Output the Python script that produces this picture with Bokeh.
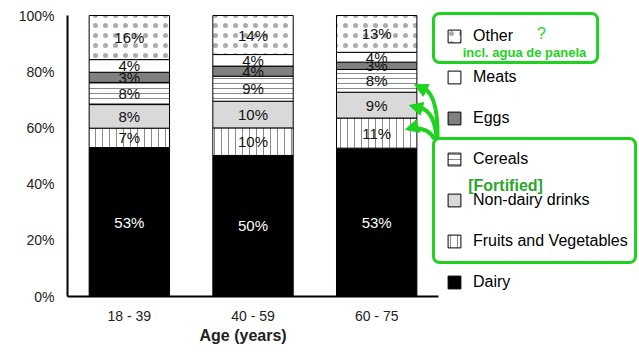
from bokeh.plotting import figure
from bokeh.models import (Legend, LegendItem, Label, BoxAnnotation, Arrow, NormalHead, Title,
                          FixedTicker, PrintfTickFormatter, CustomJSTickFormatter, Range1d,
                          ColumnDataSource)
from bokeh.core.properties import value
from bokeh.embed import file_html
from bokeh.resources import INLINE
import numpy as np

# ---- data ----
ages = ["18 - 39", "40 - 59", "60 - 75"]
groups = ["Dairy", "Fruits and Vegetables", "Non-dairy drinks", "Cereals", "Eggs", "Meats", "Other"]
dairy = [53.0, 50.2, 52.8]
fruits_veg = [6.9, 9.8, 10.7]
non_dairy = [8.4, 9.5, 9.2]
cereals = [7.9, 8.9, 8.1]
eggs = [3.6, 3.6, 2.6]
meats = [4.5, 4.1, 3.5]
other = [15.7, 13.9, 13.1]
dairy_lbl = ["53%", "50%", "53%"]
fruits_veg_lbl = ["7%", "10%", "11%"]
non_dairy_lbl = ["8%", "10%", "9%"]
cereals_lbl = ["8%", "9%", "8%"]
eggs_lbl = ["3%", "4%", "3%"]
meats_lbl = ["4%", "4%", "4%"]
other_lbl = ["16%", "14%", "13%"]
y_ticks = [0, 20, 40, 60, 80, 100]

series = [dairy, fruits_veg, non_dairy, cereals, eggs, meats, other]
labels = [dairy_lbl, fruits_veg_lbl, non_dairy_lbl, cereals_lbl, eggs_lbl, meats_lbl, other_lbl]

FONT = "Liberation Sans"
GREEN = "#1fd21f"
GREEN_DARK = "#2ba62b"

styles = {
    "Dairy": dict(fill_color="black"),
    "Fruits and Vegetables": dict(fill_color="white", hatch_pattern="vertical_line",
                                  hatch_color="#8a8a8a", hatch_scale=7, hatch_weight=1),
    "Non-dairy drinks": dict(fill_color="#d9d9d9"),
    "Cereals": dict(fill_color="white", hatch_pattern="horizontal_line",
                    hatch_color="#8a8a8a", hatch_scale=5, hatch_weight=1),
    "Eggs": dict(fill_color="#808080"),
    "Meats": dict(fill_color="white"),
    "Other": dict(fill_color="white", hatch_pattern="dot", hatch_color="#444444",
                  hatch_alpha=0.45, hatch_scale=10, hatch_weight=0.3),
}
text_colors = {"Dairy": "white"}

n = len(ages)
xpos = np.arange(n)  # category index on the x scale

# frame spans the whole right side so the legend and notes are not clipped
p = figure(x_range=Range1d(-0.5, 4.125), y_range=Range1d(0, 101.78),
           width=639, height=352, output_backend="svg", toolbar_location=None,
           min_border_left=67, min_border_right=0, min_border_top=10, min_border_bottom=56)
p.xgrid.visible = False
p.ygrid.visible = False
p.outline_line_color = None

for ax in (p.xaxis, p.yaxis):
    ax.axis_line_width = 2
    ax.axis_line_color = "black"
    ax.major_tick_line_color = None
    ax.minor_tick_line_color = None
    ax.major_label_text_font = FONT
    ax.major_label_text_font_size = "14px"
    ax.major_label_text_color = "#222222"

p.yaxis.ticker = FixedTicker(ticks=y_ticks)
p.yaxis.formatter = PrintfTickFormatter(format="%d%%")
p.yaxis.major_label_standoff = 7
p.yaxis.bounds = (0, 100)

p.xaxis.ticker = FixedTicker(ticks=list(xpos))
p.xaxis.formatter = CustomJSTickFormatter(args=dict(labels=ages),
                                          code="return labels[Math.round(tick)] || '';")
p.xaxis.bounds = (-0.5, n - 0.5)
p.xaxis.major_label_standoff = 5

# axis title, placed under the bars (not centred on the wide frame)
p.add_layout(Title(text="Age (years)", align="left", offset=132, standoff=0, vertical_align="top",
                   text_font=FONT, text_font_style="bold", text_font_size="16px",
                   text_color="#222222"), "below")

bottom = np.zeros(n)
renderers = {}
for name, vals, lbls in zip(groups, series, labels):
    vals = np.array(vals, dtype=float)
    top = bottom + vals
    src = ColumnDataSource(dict(x=xpos, bottom=bottom.copy(), top=top, mid=(bottom + top) / 2, lbl=lbls))
    r = p.vbar(x="x", bottom="bottom", top="top", width=0.65, source=src,
               line_color="black", line_width=1, **styles[name])
    renderers[name] = r
    p.text(x="x", y="mid", text="lbl", source=src, text_align="center", text_baseline="middle",
           text_font=value(FONT), text_font_size="15px", text_color=text_colors.get(name, "#111111"))
    bottom = top

legend = Legend(items=[LegendItem(label=g, renderers=[renderers[g]]) for g in reversed(groups)],
                location=(379, 5), orientation="vertical", padding=0, margin=0,
                spacing=23, glyph_height=16, glyph_width=16, label_height=18,
                label_standoff=11, border_line_color=None, background_fill_alpha=0,
                label_text_font=FONT, label_text_font_size="16px", label_text_color="black")
p.add_layout(legend, "center")

# ---- green annotations ----
p.add_layout(BoxAnnotation(left=2.459, right=3.786, top=100.7, bottom=83.3,
                           fill_alpha=0, line_color=GREEN, line_alpha=1, line_width=3, border_radius=6))
p.add_layout(BoxAnnotation(left=2.459, right=4.093, top=56.2, bottom=12.1,
                           fill_alpha=0, line_color=GREEN, line_alpha=1, line_width=3, border_radius=6))
p.add_layout(Label(x=3.333, y=93.6, text="?", text_align="center", text_baseline="middle",
                   text_font=FONT, text_font_size="16px", text_color=GREEN))
p.add_layout(Label(x=3.195, y=86.8, text="incl. agua de panela", text_align="center",
                   text_baseline="middle", text_font=FONT, text_font_size="13px",
                   text_font_style="bold", text_color=GREEN))
p.add_layout(Label(x=3.042, y=39.5, text="[Fortified]", text_align="center",
                   text_baseline="middle", text_font=FONT, text_font_size="16px",
                   text_font_style="bold", text_color=GREEN_DARK))

arrows = [
    # x0, y0, cx, cy, x1, y1, tip_x, tip_y
    (2.492, 56.2, 2.500, 74.0, 2.338, 74.7, 2.306, 75.4),
    (2.484, 56.2, 2.468, 67.6, 2.298, 67.6, 2.265, 68.0),
    (2.468, 55.9, 2.419, 60.5, 2.265, 59.8, 2.233, 59.4),
]
for x0, y0, cx, cy, x1, y1, tx, ty in arrows:
    p.quadratic(x0=[x0], y0=[y0], cx=[cx], cy=[cy], x1=[x1], y1=[y1],
                line_color=GREEN, line_width=4)
    p.add_layout(Arrow(x_start=x1, y_start=y1, x_end=tx, y_end=ty, line_color=GREEN, line_width=4,
                       end=NormalHead(size=13, fill_color=GREEN, line_color=GREEN, line_width=1)))

open("out.html", "w").write(file_html(p, INLINE))
